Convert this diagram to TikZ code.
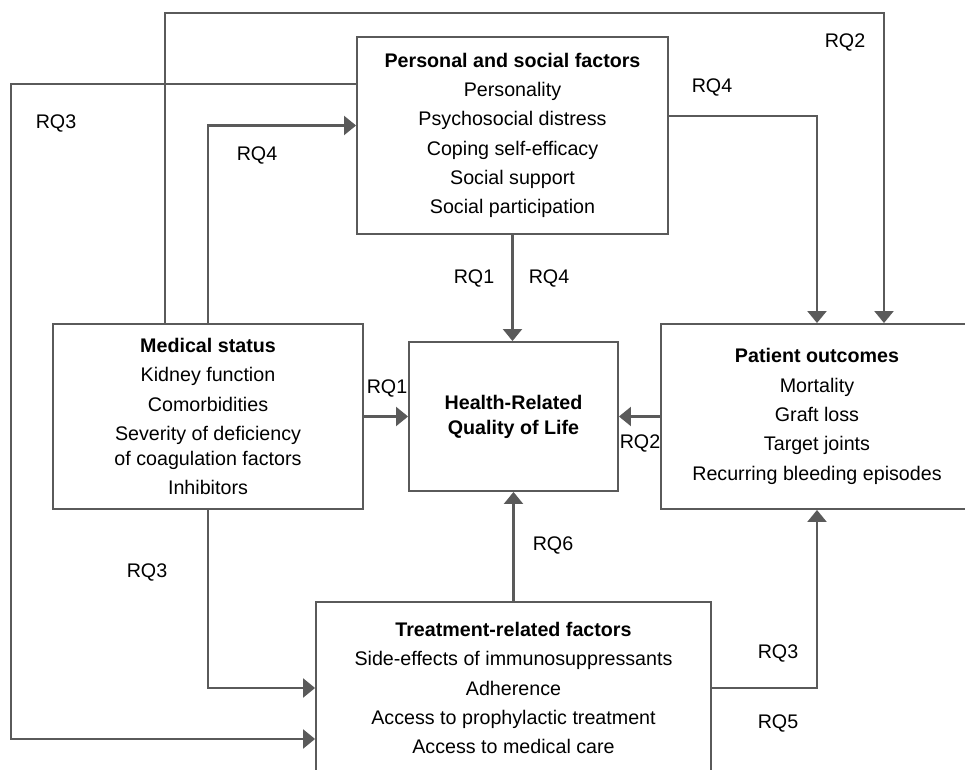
\documentclass[tikz,border=0pt]{standalone}
\usepackage{fontspec}
\setmainfont{Liberation Sans}
\usetikzlibrary{arrows.meta}
\definecolor{linegray}{RGB}{90,90,90}
\tikzset{
	factor/.style={draw=linegray, line width=1.1pt, inner sep=0pt, align=center, font=\fontsize{11.2}{14.2}\selectfont},
	link/.style={draw=linegray, line width=1.2pt, -{Triangle[length=0.24cm,width=0.38cm]}},
	rq/.style={font=\fontsize{11.2}{14.2}\selectfont}
}
\begin{document}
\begin{tikzpicture}[x=0.02cm,y=-0.02cm]
			\clip (0,0) rectangle (965,770);
			% boxes
			\node[factor, minimum width=6.22cm, minimum height=3.94cm] (personal) at (512.5,135.5) {\textbf{Personal and social factors}\\[2.5pt] Personality\\[2.5pt] Psychosocial distress\\[2.5pt] Coping self-efficacy\\[2.5pt] Social support\\[2.5pt] Social participation};
			\node[factor, minimum width=6.2cm, minimum height=3.7cm] (medical) at (208,416.5) {\textbf{Medical status}\\[2.5pt] Kidney function\\[2.5pt] Comorbidities\\[2.5pt] Severity of deficiency\\ of coagulation factors\\[2.5pt] Inhibitors};
			\node[factor, minimum width=4.18cm, minimum height=2.98cm] (hrqol) at (513.5,416.5) {\textbf{Health-Related}\\ \textbf{Quality of Life}};
			\node[factor, minimum width=6.24cm, minimum height=3.7cm] (patient) at (817,416.5) {\textbf{Patient outcomes}\\[2.5pt] Mortality\\[2.5pt] Graft loss\\[2.5pt] Target joints\\[2.5pt] Recurring bleeding episodes};
			\node[factor, minimum width=7.9cm, minimum height=3.44cm] (treat) at (513.5,688) {\textbf{Treatment-related factors}\\[2.5pt] Side-effects of immunosuppressants\\[2.5pt] Adherence\\[2.5pt] Access to prophylactic treatment\\[2.5pt] Access to medical care};
			
			% long bends
			\coordinate (tl) at (165,13);
			\coordinate (tr) at (884,13);
			\coordinate (lt) at (11,84);
			\coordinate (lb) at (11,739);
			\draw[link] (medical.north -| tl) -- (tl) -- (tr) -- (patient.north -| tr);
			\draw[link] (personal.west |- lt) -- (lt) -- (lb) -- (treat.west |- lb);
			
			% short links
			\draw[link] (medical.north) |- ([yshift=0.2cm]personal.west);
			\draw[link] ([yshift=0.39cm]personal.east) -| (patient.north);
			\draw[link] (personal.south) -- (personal.south |- hrqol.north);
			\draw[link] (medical.east) -- (hrqol.west);
			\draw[link] (patient.west) -- (hrqol.east);
			\draw[link] (treat.north) -- (treat.north |- hrqol.south);
			\draw[link] (medical.south) |- (treat.west);
			\draw[link] (treat.east) -| (patient.south);
			
			% labels
			\node[rq] (rq2top) at (845,42) {RQ2};
			\node[rq] (rq4right) at (712,87) {RQ4};
			\node[rq] (rq3left) at (56,123) {RQ3};
			\node[rq] (rq4left) at (257,155) {RQ4};
			\node[rq] (rq1top) at (474,278) {RQ1};
			\node[rq] (rq4mid) at (549,278) {RQ4};
			\node[rq] (rq1mid) at (387,388) {RQ1};
			\node[rq] (rq2mid) at (640,443) {RQ2};
			\node[rq] (rq6) at (553,545) {RQ6};
			\node[rq] (rq3low) at (147,572) {RQ3};
			\node[rq] (rq3right) at (778,653) {RQ3};
			\node[rq] (rq5) at (778,723) {RQ5};
			
		\end{tikzpicture}
\end{document}
